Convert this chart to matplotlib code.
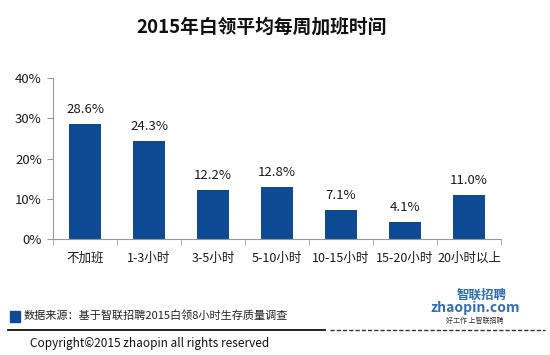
import matplotlib
matplotlib.use("Agg")
import matplotlib.pyplot as plt
from matplotlib.lines import Line2D
from matplotlib.patches import Rectangle

plt.rcParams['font.family'] = ['Noto Sans CJK SC', 'DejaVu Sans']

categories = ["不加班", "1-3小时", "3-5小时", "5-10小时", "10-15小时", "15-20小时", "20小时以上"]
values = [28.6, 24.3, 12.2, 12.8, 7.1, 4.1, 11.0]
yticks = [0, 10, 20, 30, 40]
title = "2015年白领平均每周加班时间"
source = "数据来源：基于智联招聘2015白领8小时生存质量调查"
copyright_text = "Copyright©2015 zhaopin all rights reserved"

bar_color = "#0D4A93"

fig = plt.figure(figsize=(5.5, 3.55), dpi=100)
ax = fig.add_axes([53/550, 1-239/355, 448/550, (239-78)/355])

x = list(range(len(categories)))
ax.bar(x, values, width=0.5, color=bar_color)
for xi, v in zip(x, values):
    ax.text(xi, v + 2.0, f"{v:.1f}%", ha="center", va="bottom", fontsize=9.5, color="#1a1a1a")

ax.set_xlim(-0.5, len(categories) - 0.5)
ax.set_ylim(0, 40)
ax.set_yticks(yticks)
ax.set_yticklabels([f"{t}%" for t in yticks], fontsize=9.5, color="#1a1a1a")
ax.set_xticks(x)
ax.set_xticklabels(categories, fontsize=9, color="#1a1a1a")
ax.tick_params(axis="x", length=0, pad=9)
ax.set_xticks([i - 0.5 for i in range(len(categories) + 1)], minor=True)
ax.tick_params(axis="x", which="minor", length=4, color="#999999")
ax.tick_params(axis="y", length=4, color="#999999", pad=4)
for s in ["top", "right"]:
    ax.spines[s].set_visible(False)
for s in ["left", "bottom"]:
    ax.spines[s].set_color("#999999")
    ax.spines[s].set_linewidth(0.8)

fig.text(262/550, 1-27/355, title, ha="center", va="center", fontsize=13.5, fontweight="bold", color="#111111")

# footer
fig.patches.append(Rectangle((10/550, 1-322/355), 10/550, 11/355, transform=fig.transFigure,
                             color="#0D4A93", figure=fig))
fig.text(24/550, 1-316/355, source, ha="left", va="center", fontsize=8, color="#222222")
fig.lines.append(Line2D([8/550, 325/550], [1-330/355, 1-330/355], transform=fig.transFigure,
                        color="#111111", lw=1.3, figure=fig))
fig.lines.append(Line2D([330/550, 545/550], [1-330/355, 1-330/355], transform=fig.transFigure,
                        color="#333333", lw=1.0, ls=(0, (3, 1.5)), figure=fig))
fig.text(30/550, 1-343/355, copyright_text, ha="left", va="center", fontsize=8.5, color="#111111")

# logo approximation
fig.text(482/550, 1-295/355, "智联招聘", ha="center", va="center", fontsize=9, fontweight="bold", color="#2F6DB5")
fig.text(475/550, 1-308/355, "zhaopin.com", ha="center", va="center", fontsize=10, fontweight="bold",
         style="italic", color="#2F6DB5")
fig.text(475/550, 1-321/355, "好工作 上智联招聘", ha="center", va="center", fontsize=5, color="#333333")

fig.savefig("out.png", dpi=100)
